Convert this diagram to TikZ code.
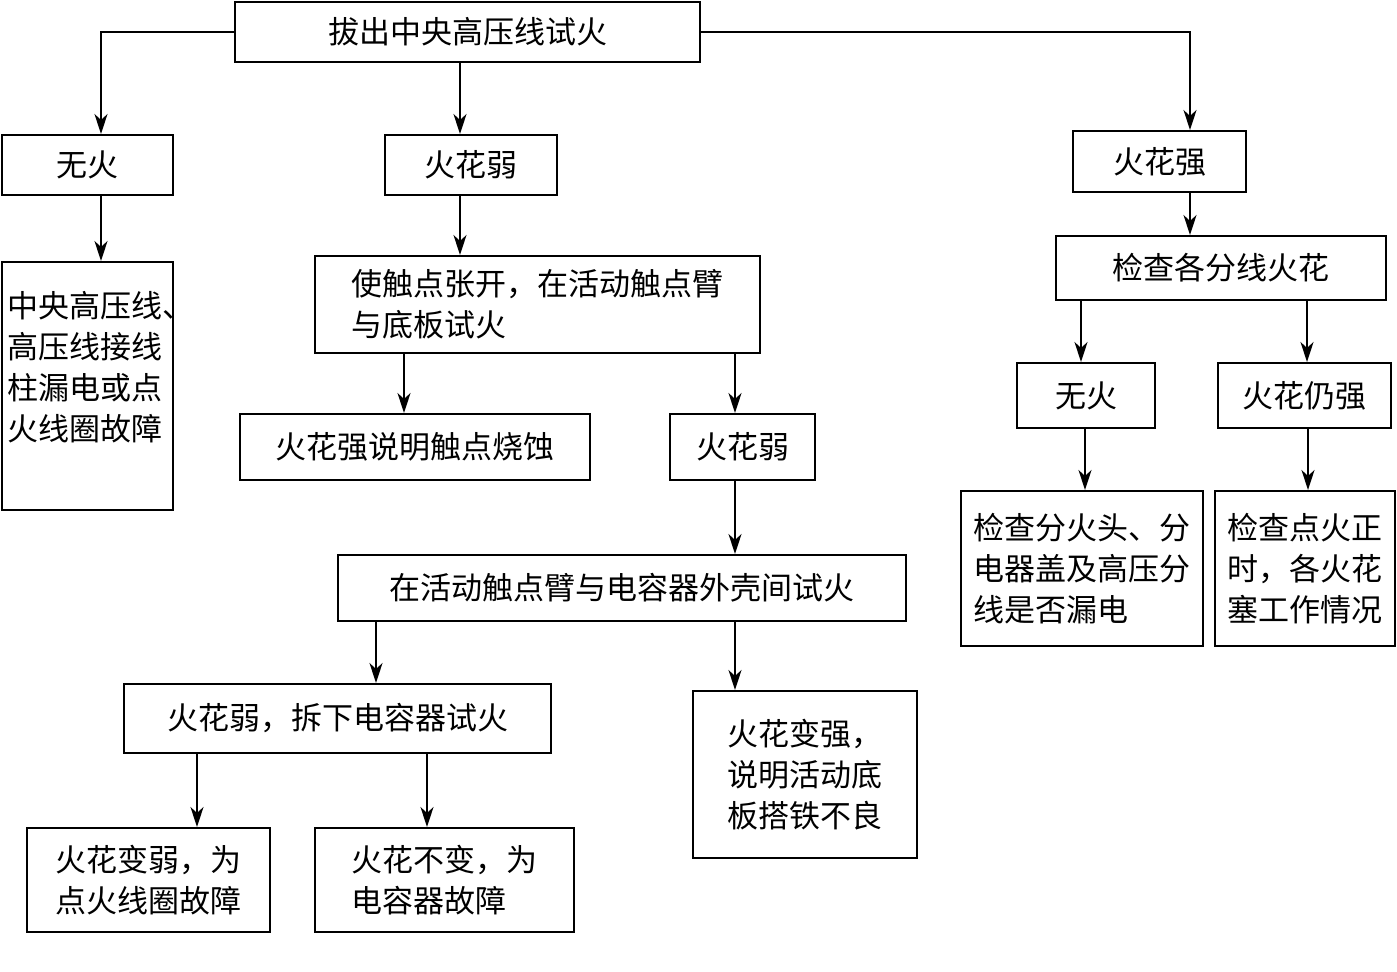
\documentclass[tikz,border=0pt]{standalone}
\usepackage{fontspec}
\newfontfamily\cjk{Noto Sans CJK SC}
\usetikzlibrary{arrows.meta}
\begin{document}
\begin{tikzpicture}[x=0.5pt,y=-0.5pt,
  every node/.style={font=\cjk\fontsize{15.5}{20.5}\selectfont},
  box/.style={draw,line width=1pt,inner sep=0pt,align=left},
  txt/.style={inner sep=0pt,align=left},
  arr/.style={line width=1pt,-{Stealth[length=10pt,width=6.5pt,inset=3pt]}}]
\useasboundingbox (0,0) rectangle (1397,972);
\newcommand{\bx}[6]{\node[box,minimum width={(#4-#2)*0.5pt},minimum height={(#5-#3)*0.5pt}] (#1) at ({(#2+#4)/2},{(#3+#5)/2}) {#6};}
\bx{top}{235}{2}{700}{62}{拔出中央高压线试火}
\bx{nfa}{2}{135}{173}{195}{无火}
\bx{wka}{385}{135}{557}{195}{火花弱}
\bx{qa}{1073}{131}{1246}{192}{火花强}
\bx{lk}{2}{262}{173}{510}{}
\node[txt,anchor=north west] (lkt) at (7,291) {中央高压线、\\高压线接线\\柱漏电或点\\火线圈故障};
\bx{open}{315}{256}{760}{353}{使触点张开，在活动触点臂\\与底板试火}
\bx{burn}{240}{414}{590}{480}{火花强说明触点烧蚀}
\bx{wkb}{670}{414}{815}{480}{火花弱}
\bx{cap}{338}{555}{906}{621}{在活动触点臂与电容器外壳间试火}
\bx{rm}{124}{684}{551}{753}{火花弱，拆下电容器试火}
\bx{gnd}{693}{691}{917}{858}{火花变强，\\说明活动底\\板搭铁不良}
\bx{coil}{27}{828}{270}{932}{火花变弱，为\\点火线圈故障}
\bx{capf}{315}{828}{574}{932}{火花不变，为\\电容器故障}
\bx{chk}{1056}{236}{1386}{300}{检查各分线火花}
\bx{nfb}{1017}{363}{1155}{428}{无火}
\bx{qb}{1218}{363}{1391}{428}{火花仍强}
\bx{leak}{961}{491}{1203}{646}{检查分火头、分\\电器盖及高压分\\线是否漏电}
\bx{tim}{1215}{491}{1395}{646}{检查点火正\\时，各火花\\塞工作情况}
% connectors
\draw[arr] (top.west) -| (101,0 |- nfa.north);
\draw[arr] (460,0 |- top.south) -- (460,0 |- wka.north);
\draw[arr] (top.east) -| (1190,0 |- qa.north);
\draw[arr] (101,0 |- nfa.south) -- (101,0 |- lk.north);
\draw[arr] (460,0 |- wka.south) -- (460,0 |- open.north);
\draw[arr] (404,0 |- open.south) -- (404,0 |- burn.north);
\draw[arr] (735,0 |- open.south) -- (735,0 |- wkb.north);
\draw[arr] (735,0 |- wkb.south) -- (735,0 |- cap.north);
\draw[arr] (376,0 |- cap.south) -- (376,0 |- rm.north);
\draw[arr] (735,0 |- cap.south) -- (735,0 |- gnd.north);
\draw[arr] (197,0 |- rm.south) -- (197,0 |- coil.north);
\draw[arr] (427,0 |- rm.south) -- (427,0 |- capf.north);
\draw[arr] (1190,0 |- qa.south) -- (1190,0 |- chk.north);
\draw[arr] (1081,0 |- chk.south) -- (1081,0 |- nfb.north);
\draw[arr] (1307,0 |- chk.south) -- (1307,0 |- qb.north);
\draw[arr] (1085,0 |- nfb.south) -- (1085,0 |- leak.north);
\draw[arr] (1308,0 |- qb.south) -- (1308,0 |- tim.north);
\end{tikzpicture}
\end{document}
